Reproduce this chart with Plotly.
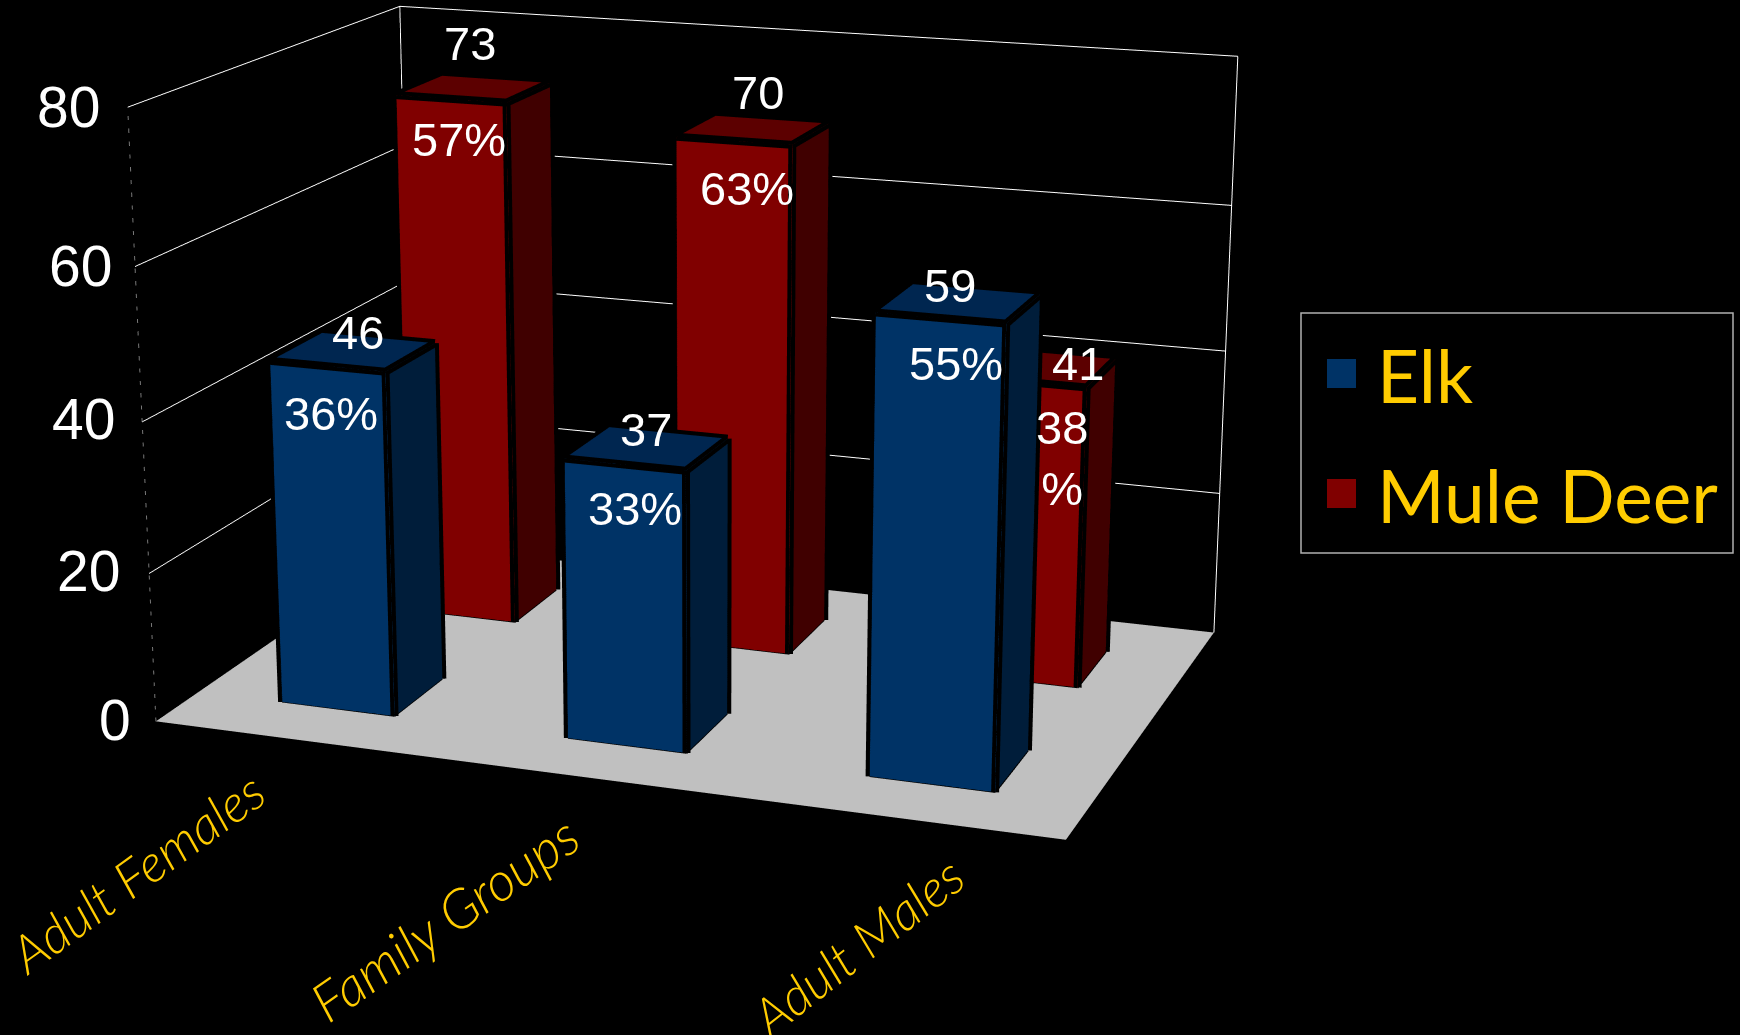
import plotly.graph_objects as go

# ---- data ----
categories = ["Adult Females", "Family Groups", "Adult Males"]
series_names = ["Elk", "Mule Deer"]
elk_values = [46, 37, 59]
deer_values = [73, 70, 41]
elk_pct = ["36%", "33%", "55%"]
deer_pct = ["57%", "63%", "38<br>%"]
z_ticks = [0, 20, 40, 60, 80]

# ---- geometry / styles ----
W, H, TOP = 1740, 3105, 1035      # tall canvas gives the flat perspective of the original
PX = 705
cat_pos = [0.5, 1.5, 2.5]
ser_pos = [0.49, 1.49]
half_w, half_d = 0.2, 0.19
XR, YR, ZR = [0, 3], [0, 2], [0, 80]
palette = [dict(front="#003366", side="#001D3A", top="#002650"),
           dict(front="#800000", side="#400000", top="#5C0000")]
GOLD = "#FFCC00"


def px(x):
    return x / W


def py(y):
    return (H - TOP - y) / H


def bar_mesh(values, yc, pal, name):
    xs, ys, zs, i, j, k, fc = [], [], [], [], [], [], []
    ex, ey, ez = [], [], []
    for xc, v in zip(cat_pos, values):
        n = len(xs)
        x0, x1, y0, y1 = xc - half_w, xc + half_w, yc - half_d, yc + half_d
        xs += [x0, x1, x1, x0, x0, x1, x1, x0]
        ys += [y0, y0, y1, y1, y0, y0, y1, y1]
        zs += [0, 0, 0, 0, v, v, v, v]
        quads = [((0, 1, 5, 4), "front"), ((1, 2, 6, 5), "side"), ((4, 5, 6, 7), "top"),
                 ((0, 3, 7, 4), "side"), ((3, 2, 6, 7), "side"), ((0, 1, 2, 3), "side")]
        for (a, b, c, d), f in quads:
            i += [n + a, n + a]
            j += [n + b, n + c]
            k += [n + c, n + d]
            fc += [pal[f], pal[f]]
        for a, b in [(0, 1), (1, 5), (5, 4), (4, 0), (1, 2), (2, 6), (6, 5), (4, 7), (7, 6)]:
            ex += [xs[n + a], xs[n + b], None]
            ey += [ys[n + a], ys[n + b], None]
            ez += [zs[n + a], zs[n + b], None]
    mesh = go.Mesh3d(x=xs, y=ys, z=zs, i=i, j=j, k=k, facecolor=fc, flatshading=True, name=name,
                     lighting=dict(ambient=1, diffuse=0, specular=0, fresnel=0, roughness=1),
                     hoverinfo="skip", showscale=False)
    edges = go.Scatter3d(x=ex, y=ey, z=ez, mode="lines", line=dict(color="black", width=16),
                         hoverinfo="skip", showlegend=False)
    return [mesh, edges]


traces = []
traces += bar_mesh(elk_values, ser_pos[0], palette[0], series_names[0])
traces += bar_mesh(deer_values, ser_pos[1], palette[1], series_names[1])
# wall corner verticals
traces.append(go.Scatter3d(x=[XR[0], XR[0], None, XR[1], XR[1]], y=[YR[1], YR[1], None, YR[1], YR[1]],
                           z=[ZR[0], ZR[1], None, ZR[0], ZR[1]], mode="lines",
                           line=dict(color="white", width=2), hoverinfo="skip", showlegend=False))
traces.append(go.Scatter3d(x=[XR[0], XR[0]], y=[YR[0], YR[0]], z=ZR, mode="lines",
                           line=dict(color="#777777", width=2, dash="dash"),
                           hoverinfo="skip", showlegend=False))

fig = go.Figure(traces)

ann3d = []
tick_shift = [(-23, 1), (-27, 2), (-25, 3), (-21, 1), (-26, 0)]
for t, (sx, sy) in zip(z_ticks, tick_shift):
    ann3d.append(dict(x=XR[0], y=YR[0], z=t, text=str(t), showarrow=False, xanchor="right", yanchor="middle",
                      xshift=sx, yshift=sy, font=dict(family="Liberation Sans", size=57, color="white")))

val_shift = [[(31, 34), (21, 35), (9, 33)], [(19, 55), (24, 48), (52, 19)]]
pct_shift = [[(4, -47), (10, -44), (15, -45)], [(8, -41), (13, -48), (36, -76)]]
for s, (vals, pcts) in enumerate(zip([elk_values, deer_values], [elk_pct, deer_pct])):
    for c, (v, p) in enumerate(zip(vals, pcts)):
        base = dict(x=cat_pos[c], y=ser_pos[s] - half_d, z=v, showarrow=False, xanchor="center", yanchor="middle",
                    font=dict(family="Liberation Sans", size=47, color="white"))
        ann3d.append(dict(base, text=str(v), xshift=val_shift[s][c][0], yshift=val_shift[s][c][1]))
        ann3d.append(dict(base, text=p, xshift=pct_shift[s][c][0], yshift=pct_shift[s][c][1]))

cat_shift = [(-161, -132), (-148, -140), (-47, -127)]
cat_angle = [-36, -35, -38]
cat_size = [52, 54, 52]
for c, name in enumerate(categories):
    ann3d.append(dict(x=cat_pos[c], y=YR[0], z=0, text=name, showarrow=False, xanchor="center", yanchor="middle",
                      textangle=cat_angle[c], xshift=cat_shift[c][0], yshift=cat_shift[c][1],
                      font=dict(family="Lato", size=cat_size[c], color=GOLD, style="italic", weight=300)))

axis_off = dict(showgrid=False, showticklabels=False, zeroline=False, showspikes=False, showline=False,
                title="", ticks="", showbackground=True, backgroundcolor="black")

fig.update_layout(
    width=W, height=H, autosize=False,
    margin=dict(l=0, r=0, t=0, b=0, pad=0),
    paper_bgcolor="black", plot_bgcolor="black", showlegend=False,
    scene=dict(
        domain=dict(x=[0, 2 * PX / W], y=[0, 1]),
        xaxis=dict(axis_off, range=XR),
        yaxis=dict(axis_off, range=YR),
        zaxis=dict(range=ZR, tickmode="array", tickvals=z_ticks[1:], showticklabels=False, ticks="",
                   showgrid=True, gridcolor="white", gridwidth=2, zeroline=False, showspikes=False,
                   showline=False, title="", showbackground=True, backgroundcolor="#C0C0C0"),
        aspectmode="manual", aspectratio=dict(x=1, y=0.6716, z=0.6639),
        camera=dict(eye=dict(x=1.3273, y=-3.68, z=1.0473), center=dict(x=0.04, y=-0.1038, z=-0.1153),
                    up=dict(x=0.0271, y=-0.0741, z=1), projection=dict(type="perspective")),
        annotations=ann3d,
    ),
    shapes=[
        dict(type="rect", xref="paper", yref="paper", x0=px(1301), x1=px(1733), y0=py(313), y1=py(553),
             line=dict(color="#B0B0B0", width=1.5), fillcolor="black"),
        dict(type="rect", xref="paper", yref="paper", x0=px(1327), x1=px(1356), y0=py(359), y1=py(388),
             line=dict(width=0), fillcolor=palette[0]["front"]),
        dict(type="rect", xref="paper", yref="paper", x0=px(1327), x1=px(1356), y0=py(479), y1=py(508),
             line=dict(width=0), fillcolor=palette[1]["front"]),
    ],
    annotations=[
        dict(xref="paper", yref="paper", x=px(1375), y=py(375), text=series_names[0], showarrow=False, xanchor="left",
             yanchor="middle", font=dict(family="Lato", size=73, color=GOLD)),
        dict(xref="paper", yref="paper", x=px(1375), y=py(495), text=series_names[1], showarrow=False, xanchor="left",
             yanchor="middle", font=dict(family="Lato", size=73, color=GOLD)),
    ],
)

post = f"""
document.documentElement.style.cssText='margin:0;overflow:hidden;background:#000;height:1035px;';
document.body.style.cssText='margin:0;overflow:hidden;background:#000;height:1035px;';
var g=document.querySelector('.plotly-graph-div');
g.style.position='absolute';g.style.left='0px';g.style.top='-{TOP}px';
"""
fig.write_html("out.html", post_script=post, config=dict(displayModeBar=False))
